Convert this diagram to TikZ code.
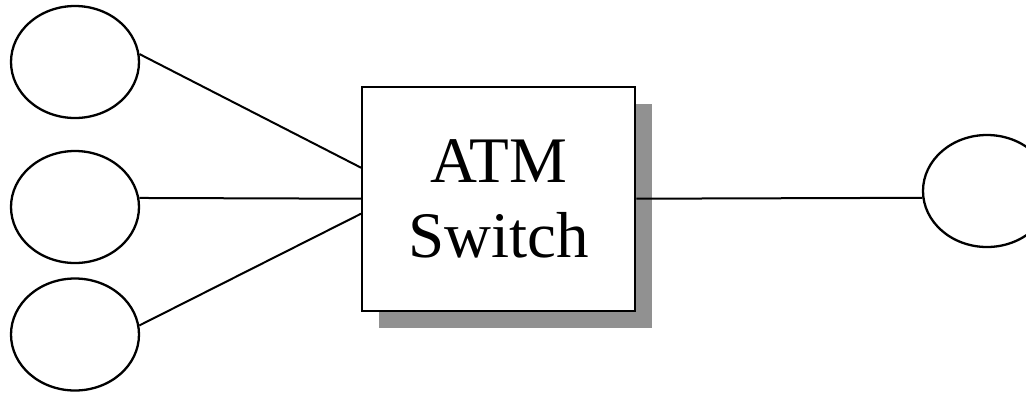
\documentclass[tikz,border=0pt]{standalone}
\usepackage{fontspec}
\setmainfont{Liberation Serif}
\usetikzlibrary{shapes.geometric,shadows}
\definecolor{shadowgray}{RGB}{145,145,145}
\begin{document}
\begin{tikzpicture}[x=1pt,y=-1pt,
  station/.style={ellipse,draw=black,line width=2.3pt,minimum width=128pt,minimum height=112pt,inner sep=0pt},
  switchbox/.style={rectangle,draw=black,fill=white,line width=2.3pt,minimum width=273pt,minimum height=224pt,inner sep=0pt,align=center,
    font=\fontsize{65}{75}\selectfont,
    general shadow={shadow xshift=17pt,shadow yshift=-17pt,fill=shadowgray,draw=none}},
  link/.style={draw=black,line width=2pt}]
\useasboundingbox (0,0) rectangle (1026,392);
\node[station] (e1) at (75,62) {};
\node[station] (e2) at (75,207) {};
\node[station] (e3) at (75,334.5) {};
\node[station] (e4) at (987,191) {};
\node[switchbox] (sw) at (498.7,198.7) {ATM\\Switch};
\draw[link] (e1.7) -- ([yshift=31pt]sw.west);
\draw[link] (e2.8) -- (sw.west);
\draw[link] (e3.8.5) -- ([yshift=-15pt]sw.west);
\draw[link] (sw.east) -- (e4.186);
\end{tikzpicture}
\end{document}
